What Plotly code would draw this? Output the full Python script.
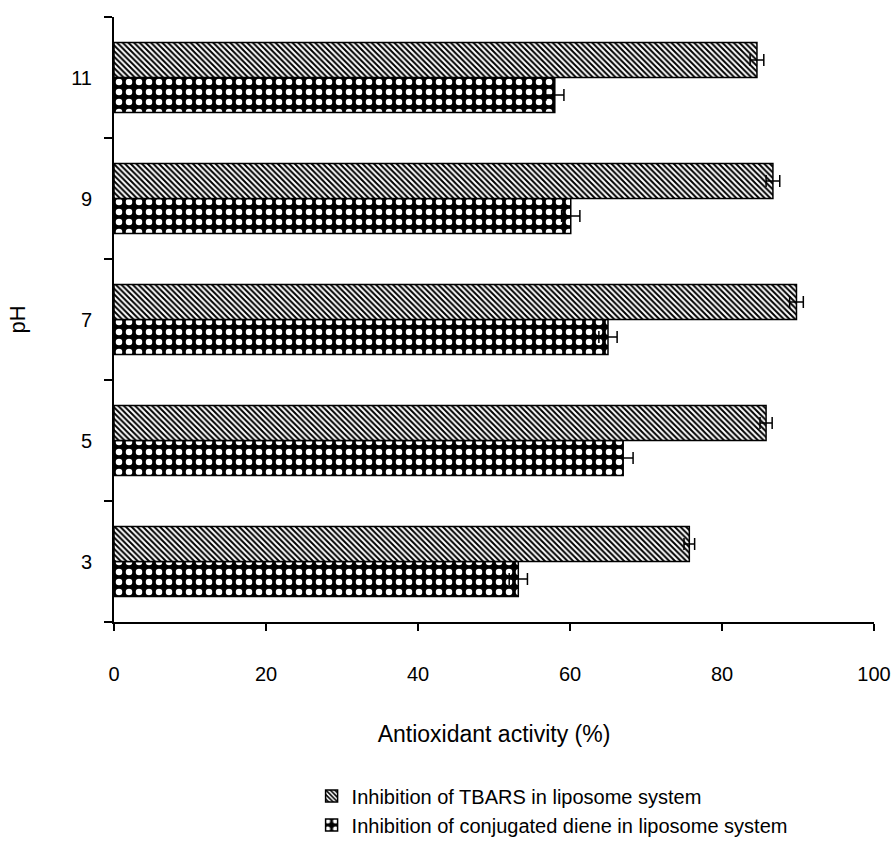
import plotly.graph_objects as go

# pH levels and antioxidant activity (%) for the two liposome assays
ph_levels = [3, 5, 7, 9, 11]
tbars_values = [75.7, 85.8, 89.8, 86.7, 84.6]
tbars_errors = [0.7, 0.8, 0.9, 0.9, 0.9]
diene_values = [53.2, 67.0, 65.0, 60.1, 58.0]
diene_errors = [1.2, 1.3, 1.2, 1.2, 1.2]

x_ticks = [0, 20, 40, 60, 80, 100]
ph_boundaries = [2, 4, 6, 8, 10, 12]

font_family = "Arial, Liberation Sans, sans-serif"

fig = go.Figure()

# Conjugated diene first so it sits below the TBARS bar in each group
fig.add_trace(go.Bar(
    y=ph_levels, x=diene_values, orientation="h",
    name="Inhibition of conjugated diene in liposome system",
    marker=dict(
        color="black",
        line=dict(color="black", width=1.5),
        pattern=dict(shape=".", fgcolor="white", bgcolor="black",
                     size=10, solidity=0.33, fillmode="replace"),
    ),
    error_x=dict(type="data", array=diene_errors, color="black",
                 thickness=1.5, width=6),
))

fig.add_trace(go.Bar(
    y=ph_levels, x=tbars_values, orientation="h",
    name="Inhibition of TBARS in liposome system",
    marker=dict(
        color="white",
        line=dict(color="black", width=1.5),
        pattern=dict(shape="\\", fgcolor="black", bgcolor="white",
                     size=4, solidity=0.5, fillmode="replace"),
    ),
    error_x=dict(type="data", array=tbars_errors, color="black",
                 thickness=1.5, width=6),
))

fig.update_layout(
    width=896, height=843,
    margin=dict(l=114, r=22, t=17, b=221, autoexpand=False),
    paper_bgcolor="white", plot_bgcolor="white",
    barmode="group", bargap=0.42, bargroupgap=0,
    font=dict(family=font_family, size=20, color="black"),
    legend=dict(
        x=0.26, xanchor="left",
        y=0.079, yref="container", yanchor="top",
        traceorder="reversed", font=dict(size=20),
        itemwidth=30, tracegroupgap=0, bgcolor="rgba(0,0,0,0)",
    ),
    xaxis=dict(
        range=[0, 100], tickvals=x_ticks, ticks="outside", ticklen=7,
        tickwidth=1.5, tickcolor="black", showline=True, linecolor="black",
        linewidth=2, showgrid=False, zeroline=False, automargin=False,
        ticklabelstandoff=26, tickfont=dict(size=20),
        title=dict(text="Antioxidant activity (%)", standoff=42,
                   font=dict(size=23)),
    ),
    yaxis=dict(
        range=[2, 12], tickvals=ph_levels, ticktext=[str(v) for v in ph_levels],
        ticks="", showline=True, linecolor="black", linewidth=2,
        showgrid=False, zeroline=False, automargin=False,
        ticklabelstandoff=16, tickfont=dict(size=20),
        minor=dict(tickvals=ph_boundaries, ticks="outside", ticklen=8,
                   tickwidth=1.5, tickcolor="black", showgrid=False),
        title=dict(text="pH", standoff=40, font=dict(size=22)),
    ),
)

fig.write_html("out.html")
